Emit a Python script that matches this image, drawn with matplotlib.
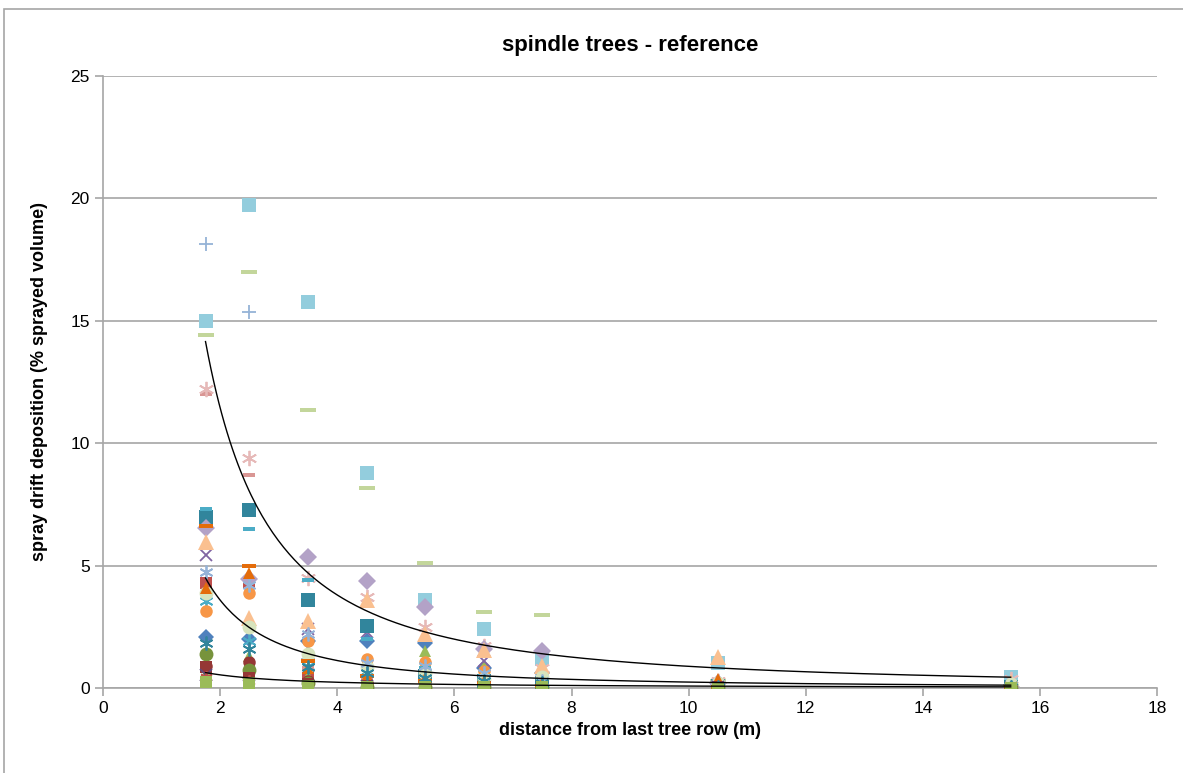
import numpy as np
import matplotlib.pyplot as plt
from matplotlib.patches import Rectangle

plt.rcParams['font.family'] = ['Liberation Sans', 'DejaVu Sans']

# distances from last tree row (m)
distances = [1.75, 2.5, 3.5, 4.5, 5.5, 6.5, 7.5, 10.5, 15.5]

s01 = [2.10, 2.00, 1.90, 1.90, 1.85, 0.80, 0.60, 0.15, 0.05]
s02 = [4.30, 4.30, 0.40, 0.30, 0.20, 0.15, 0.10, 0.05, 0.02]
s03 = [0.60, 1.30, 0.50, 0.50, 1.50, 0.90, 0.40, 0.10, 0.03]
s04 = [5.45, 0.10, 2.40, 2.30, 0.40, 1.10, 0.30, 0.10, 0.02]
s05 = [3.55, 1.90, 0.90, 0.70, 0.90, 0.40, 0.25, 0.10, 0.03]
s06 = [3.15, 3.90, 1.90, 1.20, 1.05, 0.70, 0.35, 0.15, 0.05]
s07 = [18.15, 15.35, 1.20, 0.50, 0.30, 0.20, 0.15, 0.05, 0.02]
s08 = [12.00, 8.70, 0.80, 0.40, 0.30, 0.20, 0.10, 0.05, 0.02]
s09 = [14.40, 17.00, 11.35, 8.15, 5.10, 3.10, 3.00, 0.30, 0.10]
s10 = [15.00, 19.75, 15.75, 8.80, 3.60, 2.40, 1.20, 1.00, 0.45]
s11 = [12.20, 9.40, 4.50, 3.70, 2.50, 1.70, 0.80, 0.30, 0.35]
s12 = [7.00, 7.25, 3.60, 2.55, 0.50, 0.30, 0.20, 0.10, 0.05]
s13 = [7.30, 6.50, 4.40, 2.00, 0.80, 0.50, 0.30, 0.10, 0.03]
s14 = [6.55, 4.45, 5.35, 4.35, 3.30, 1.60, 1.50, 0.20, 0.05]
s15 = [5.95, 2.85, 2.75, 3.60, 2.20, 1.55, 0.90, 1.25, 0.25]
s16 = [3.90, 2.50, 1.40, 0.85, 0.60, 0.35, 0.45, 0.20, 0.15]
s17 = [6.60, 5.00, 1.10, 0.50, 0.30, 0.20, 0.10, 0.05, 0.02]
s18 = [0.90, 1.05, 0.30, 0.20, 0.10, 0.10, 0.05, 0.02, 0.01]
s19 = [1.40, 0.75, 0.20, 0.05, 0.05, 0.05, 0.03, 0.02, 0.01]
s20 = [4.75, 4.20, 2.20, 1.00, 0.90, 0.60, 0.30, 0.10, 0.05]
s21 = [4.10, 4.70, 0.80, 0.50, 0.40, 0.30, 0.20, 0.35, 0.05]
s22 = [0.85, 0.40, 0.15, 0.10, 0.10, 0.05, 0.05, 0.02, 0.01]
s23 = [0.55, 0.15, 0.10, 0.10, 0.05, 0.05, 0.03, 0.02, 0.01]
s24 = [1.83, 1.60, 0.85, 0.60, 0.40, 0.30, 0.20, 0.05, 0.02]
s25 = [0.45, 0.30, 0.05, 0.05, 0.03, 0.02, 0.02, 0.01, 0.01]
s26 = [0.25, 0.20, 0.10, 0.05, 0.05, 0.03, 0.02, 0.01, 0.01]

series = [s01, s02, s03, s04, s05, s06, s07, s08, s09, s10, s11, s12, s13,
          s14, s15, s16, s17, s18, s19, s20, s21, s22, s23, s24, s25, s26]

dash = [(-1, -0.3), (1, -0.3), (1, 0.3), (-1, 0.3)]
star = (6, 2, 0)
styles = [
    ('#4F81BD', 'D', 8), ('#C0504D', 's', 9), ('#9BBB59', '^', 9),
    ('#8064A2', 'x', 8), ('#4BACC6', star, 10), ('#F79646', 'o', 9),
    ('#95B3D7', '+', 10), ('#D99694', dash, 8), ('#C3D69B', dash, 11),
    ('#93CDDD', 's', 10), ('#E6B9B8', star, 11), ('#31859C', 's', 10),
    ('#4BACC6', dash, 8), ('#B3A2C7', 'D', 9), ('#FAC090', '^', 11),
    ('#D7E4BD', 'o', 10), ('#E46C0A', dash, 10), ('#953735', 'o', 9),
    ('#77933C', 'o', 10), ('#95B3D7', star, 10), ('#E46C0A', '^', 9),
    ('#953735', 's', 9), ('#5F497A', 'x', 9), ('#31859C', star, 10),
    ('#C0504D', star, 9), ('#9BBB59', 's', 9),
]

# power trend lines y = a * x^b
trend_a = [34.47, 11.5, 1.23]
trend_b = [-1.591, -1.68, -1.2]

fig = plt.figure(figsize=(11.83, 7.73), dpi=100)
ax = fig.add_axes([0.0871, 0.110, 0.891, 0.7917])

for values, (color, marker, size) in zip(series, styles):
    lw = 1.3 if marker in ('x', '+') or marker == star else 0
    ax.plot(distances, values, linestyle='none', marker=marker, markersize=size,
            color=color, markerfacecolor=color, markeredgecolor=color,
            markeredgewidth=lw, zorder=3)

xs = np.linspace(distances[0], distances[-1], 300)
for a, b in zip(trend_a, trend_b):
    ax.plot(xs, a * xs ** b, color='black', linewidth=1.0, zorder=4)

ax.set_xlim(0, 18)
ax.set_ylim(0, 25)
ax.set_xticks(range(0, 19, 2))
ax.set_yticks(range(0, 26, 5))
ax.yaxis.grid(True, color='#A6A6A6', linewidth=1.2)
ax.set_axisbelow(True)
for side in ('top', 'right'):
    ax.spines[side].set_visible(False)
for side in ('left', 'bottom'):
    ax.spines[side].set_color('#A6A6A6')
    ax.spines[side].set_linewidth(1.2)
ax.tick_params(axis='both', colors='#A6A6A6', labelcolor='black', labelsize=12.5,
               length=6, width=1.2, direction='out')

ax.set_title('spindle trees - reference', fontsize=16, fontweight='bold', pad=18)
ax.set_xlabel('distance from last tree row (m)', fontsize=13, fontweight='bold', labelpad=4)
ax.set_ylabel('spray drift deposition (% sprayed volume)', fontsize=13, fontweight='bold', labelpad=16)

fig.patches.append(Rectangle((4 / 1183, -0.1), 1.2, 1 - 9 / 773 + 0.1, transform=fig.transFigure,
                             fill=False, edgecolor='#A6A6A6', linewidth=1.2))

fig.savefig('out.png', dpi=100)
